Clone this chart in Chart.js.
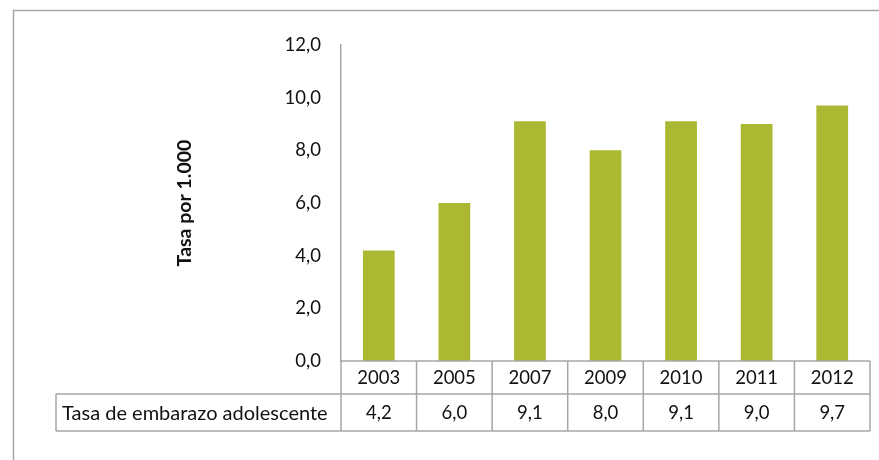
<!DOCTYPE html>
<html>
<head>
<meta charset="utf-8">
<script src="https://cdn.jsdelivr.net/npm/chart.js@4.4.1/dist/chart.umd.min.js"></script>
<style>
  html, body { margin: 0; padding: 0; background: #fff; }
  #wrap { width: 879px; height: 460px; }
</style>
</head>
<body>
<div id="wrap"><canvas id="chart" width="879" height="460"></canvas></div>
<script>
const years = ['2003', '2005', '2007', '2009', '2010', '2011', '2012'];
const rates = [4.2, 6.0, 9.1, 8.0, 9.1, 9.0, 9.7];
const seriesName = 'Tasa de embarazo adolescente';
const yTitle = 'Tasa por 1.000';

const FONT = 'Lato, "Open Sans", sans-serif';
const GRID = '#a6a6a6';
const comma = (v) => Number(v).toFixed(1).replace('.', ',');

// outer chart frame (runs off the right and bottom edges like the original)
const framePlugin = {
  id: 'frame',
  beforeDraw(chart) {
    const ctx = chart.ctx;
    ctx.save();
    ctx.strokeStyle = GRID;
    ctx.lineWidth = 1.5;
    ctx.strokeRect(13.5, 10.5, 900, 500);
    ctx.restore();
  }
};

// excel style data table under the bars
const dataTablePlugin = {
  id: 'dataTable',
  afterDraw(chart) {
    const ctx = chart.ctx;
    const x = chart.scales.x;
    const area = chart.chartArea;
    const colW = (area.right - area.left) / years.length;
    const top = area.bottom;
    const mid = top + 33;
    const bottom = mid + 37;
    const labelLeft = 56;

    ctx.save();
    ctx.strokeStyle = GRID;
    ctx.lineWidth = 1.5;

    ctx.beginPath();
    ctx.moveTo(area.left, top); ctx.lineTo(area.right, top);
    ctx.moveTo(labelLeft, mid); ctx.lineTo(area.right, mid);
    ctx.moveTo(labelLeft, bottom); ctx.lineTo(area.right, bottom);
    ctx.moveTo(labelLeft, mid); ctx.lineTo(labelLeft, bottom);
    years.forEach((y, i) => {
      const left = x.getPixelForValue(i) - colW / 2;
      ctx.moveTo(left, top); ctx.lineTo(left, bottom);
    });
    ctx.moveTo(area.right, top); ctx.lineTo(area.right, bottom);
    ctx.stroke();

    ctx.fillStyle = '#111';
    ctx.font = '18.5px ' + FONT;
    ctx.textBaseline = 'middle';
    ctx.textAlign = 'center';
    years.forEach((y, i) => {
      const cx = x.getPixelForValue(i);
      ctx.fillText(y, cx, (top + mid) / 2 + 1);
      ctx.fillText(comma(rates[i]), cx, (mid + bottom) / 2 + 1);
    });
    ctx.font = '20px ' + FONT;
    ctx.textAlign = 'left';
    ctx.fillText(seriesName, labelLeft + 6, (mid + bottom) / 2 + 1);
    ctx.restore();
  }
};

new Chart(document.getElementById('chart'), {
  type: 'bar',
  data: {
    labels: years,
    datasets: [{
      label: seriesName,
      data: rates,
      backgroundColor: '#abb832',
      borderWidth: 0,
      barPercentage: 0.42,
      categoryPercentage: 1
    }]
  },
  options: {
    responsive: false,
    animation: false,
    layout: { padding: { left: 167, top: 45, right: 9, bottom: 99 } },
    plugins: {
      legend: { display: false },
      tooltip: { enabled: false }
    },
    scales: {
      x: { display: false },
      y: {
        min: 0,
        max: 12,
        afterFit(scale) { scale.width = 174; },
        ticks: {
          stepSize: 2,
          callback: comma,
          font: { size: 18.5, family: FONT },
          color: '#111',
          padding: 20
        },
        grid: { display: false, drawTicks: false },
        border: { display: true, color: GRID, width: 1.5 },
        title: {
          display: true,
          text: yTitle,
          font: { size: 19.5, weight: 'bold', family: FONT },
          color: '#111',
          padding: { top: 6, bottom: 0 }
        }
      }
    }
  },
  plugins: [framePlugin, dataTablePlugin]
});
</script>
</body>
</html>
